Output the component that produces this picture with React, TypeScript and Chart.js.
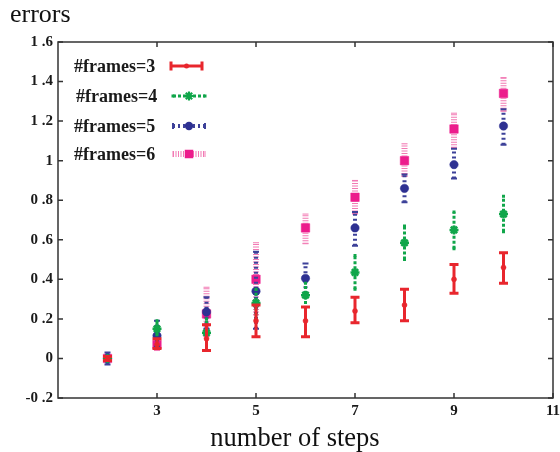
import React, { useEffect, useRef } from "react";
import { Chart, registerables } from "chart.js";

Chart.register(...registerables);

// ---------- data ----------
const steps = [2, 3, 4, 5, 6, 7, 8, 9, 10];

const seriesLabels = ["#frames=3", "#frames=4", "#frames=5", "#frames=6"];

const frames3 = [0, 0.07, 0.1, 0.19, 0.19, 0.24, 0.27, 0.4, 0.46];
const frames3Low = [-0.01, 0.05, 0.04, 0.11, 0.11, 0.18, 0.19, 0.33, 0.38];
const frames3High = [0.01, 0.1, 0.17, 0.27, 0.26, 0.31, 0.35, 0.475, 0.535];

const frames4 = [0, 0.15, 0.13, 0.28, 0.32, 0.435, 0.585, 0.65, 0.73];
const frames4Low = [-0.01, 0.12, 0.05, 0.19, 0.25, 0.35, 0.5, 0.555, 0.64];
const frames4High = [0.01, 0.19, 0.2, 0.35, 0.38, 0.52, 0.67, 0.74, 0.82];

const frames5 = [0, 0.115, 0.235, 0.34, 0.405, 0.66, 0.86, 0.98, 1.175];
const frames5Low = [-0.03, 0.06, 0.15, 0.15, 0.33, 0.57, 0.79, 0.91, 1.08];
const frames5High = [0.03, 0.19, 0.31, 0.54, 0.48, 0.74, 0.93, 1.06, 1.26];

const frames6 = [0, 0.07, 0.225, 0.4, 0.66, 0.815, 1.0, 1.16, 1.34];
const frames6Low = [-0.01, 0.04, 0.11, 0.22, 0.58, 0.73, 0.92, 1.065, 1.25];
const frames6High = [0.02, 0.1, 0.36, 0.585, 0.73, 0.9, 1.085, 1.24, 1.42];

const xTickValues = [3, 5, 7, 9, 11];
const xTickLabels = ["3", "5", "7", "9", "11"];
const yTickValues = [-0.2, 0, 0.2, 0.4, 0.6, 0.8, 1, 1.2, 1.4, 1.6];
const yTickLabels = ["-0 .2", "0", "0 .2", "0 .4", "0 .6", "0 .8", "1", "1 .2", "1 .4", "1 .6"];

const xTitle = "number of steps";
const yTitle = "errors";

// ---------- styles ----------
const FONT = "'Liberation Serif', 'Times New Roman', serif";

type SeriesStyle = {
  color: string;
  barColor: string;
  lineWidth: number;
  dash: number[];
  capW: number;
  capWidth: number;
  marker: "circle" | "star" | "rect";
  size: number;
};

const styles: SeriesStyle[] = [
  { color: "#e8262d", barColor: "#e8262d", lineWidth: 3, dash: [], capW: 9, capWidth: 3, marker: "circle", size: 2.5 },
  { color: "#10a64a", barColor: "#10a64a", lineWidth: 3, dash: [3, 2], capW: 3, capWidth: 3, marker: "star", size: 4.5 },
  { color: "#2e3192", barColor: "#3d4199", lineWidth: 4, dash: [2, 3], capW: 6, capWidth: 2, marker: "circle", size: 4.2 },
  { color: "#ec1c8c", barColor: "#f27ab4", lineWidth: 6, dash: [1, 1.5], capW: 6, capWidth: 1, marker: "rect", size: 6 },
];

const values = [frames3, frames4, frames5, frames6];
const lows = [frames3Low, frames4Low, frames5Low, frames6Low];
const highs = [frames3High, frames4High, frames5High, frames6High];

function drawMarker(ctx: CanvasRenderingContext2D, s: SeriesStyle, x: number, y: number) {
  ctx.save();
  ctx.setLineDash([]);
  ctx.fillStyle = s.color;
  ctx.strokeStyle = s.color;
  if (s.marker === "circle") {
    ctx.beginPath();
    ctx.arc(x, y, s.size, 0, Math.PI * 2);
    ctx.fill();
  } else if (s.marker === "rect") {
    const h = s.size * Math.SQRT1_2;
    ctx.fillRect(x - h, y - h, 2 * h, 2 * h);
  } else {
    ctx.lineWidth = 2.2;
    ctx.beginPath();
    for (let i = 0; i < 4; i++) {
      const a = (i * Math.PI) / 4;
      ctx.moveTo(x - Math.cos(a) * s.size, y - Math.sin(a) * s.size);
      ctx.lineTo(x + Math.cos(a) * s.size, y + Math.sin(a) * s.size);
    }
    ctx.stroke();
  }
  ctx.restore();
}

function drawErrorBar(ctx: CanvasRenderingContext2D, s: SeriesStyle, x: number, y1: number, y2: number) {
  ctx.save();
  ctx.strokeStyle = s.barColor;
  ctx.lineWidth = s.lineWidth;
  ctx.setLineDash(s.dash);
  ctx.beginPath();
  ctx.moveTo(x, y1);
  ctx.lineTo(x, y2);
  ctx.stroke();
  ctx.setLineDash([]);
  ctx.lineWidth = s.capWidth;
  ctx.beginPath();
  ctx.moveTo(x - s.capW / 2, y1);
  ctx.lineTo(x + s.capW / 2, y1);
  ctx.moveTo(x - s.capW / 2, y2);
  ctx.lineTo(x + s.capW / 2, y2);
  ctx.stroke();
  ctx.restore();
}

function drawHorizontalBar(ctx: CanvasRenderingContext2D, s: SeriesStyle, x1: number, x2: number, y: number) {
  ctx.save();
  ctx.strokeStyle = s.barColor;
  ctx.lineWidth = s.lineWidth;
  ctx.setLineDash(s.dash);
  ctx.beginPath();
  ctx.moveTo(x1, y);
  ctx.lineTo(x2, y);
  ctx.stroke();
  ctx.setLineDash([]);
  ctx.lineWidth = s.capWidth;
  ctx.beginPath();
  ctx.moveTo(x1, y - s.capW / 2);
  ctx.lineTo(x1, y + s.capW / 2);
  ctx.moveTo(x2, y - s.capW / 2);
  ctx.lineTo(x2, y + s.capW / 2);
  ctx.stroke();
  ctx.restore();
}

const errorBarPlugin = {
  id: "errorBars",
  beforeDatasetDraw(chart: any, args: any) {
    const i = args.index;
    const s = styles[i];
    const xs = chart.scales.x;
    const ys = chart.scales.y;
    const ctx = chart.ctx as CanvasRenderingContext2D;
    for (let k = 0; k < steps.length; k++) {
      const px = xs.getPixelForValue(steps[k]);
      drawErrorBar(ctx, s, px, ys.getPixelForValue(lows[i][k]), ys.getPixelForValue(highs[i][k]));
    }
  },
};

const decorPlugin = {
  id: "decor",
  afterDraw(chart: any) {
    const ctx = chart.ctx as CanvasRenderingContext2D;
    const { left, right, top, bottom } = chart.chartArea;
    const xs = chart.scales.x;
    const ys = chart.scales.y;
    ctx.save();
    // frame
    ctx.strokeStyle = "#333";
    ctx.lineWidth = 1.5;
    ctx.strokeRect(left, top, right - left, bottom - top);
    // inward ticks
    const tl = 5;
    ctx.beginPath();
    xTickValues.forEach((v) => {
      const px = xs.getPixelForValue(v);
      ctx.moveTo(px, bottom);
      ctx.lineTo(px, bottom - tl);
      ctx.moveTo(px, top);
      ctx.lineTo(px, top + tl);
    });
    yTickValues.forEach((v) => {
      const py = ys.getPixelForValue(v);
      ctx.moveTo(left, py);
      ctx.lineTo(left + tl, py);
      ctx.moveTo(right, py);
      ctx.lineTo(right - tl, py);
    });
    ctx.stroke();

    // titles
    ctx.fillStyle = "#111";
    ctx.font = `26px ${FONT}`;
    ctx.textAlign = "left";
    ctx.textBaseline = "alphabetic";
    ctx.fillText(yTitle, 10, 22);
    ctx.font = `26.5px ${FONT}`;
    ctx.textAlign = "center";
    ctx.fillText(xTitle, 295, 446);

    // legend
    const rows = [66, 96, 126, 154];
    const textX = [74, 76, 74, 74];
    ctx.font = `bold 18px ${FONT}`;
    ctx.textAlign = "left";
    ctx.textBaseline = "middle";
    seriesLabels.forEach((lab, i) => {
      ctx.fillStyle = "#1a1a1a";
      ctx.fillText(lab, textX[i], rows[i] + 1);
      const s = styles[i];
      const x1 = i === 0 ? 171 : 173;
      const x2 = i === 0 ? 202 : 205;
      drawHorizontalBar(ctx, s, x1, x2, rows[i]);
      drawMarker(ctx, s, (x1 + x2) / 2, rows[i]);
    });
    ctx.restore();
  },
};

function pointStyleFor(s: SeriesStyle): any {
  if (s.marker === "rect") return "rect";
  if (s.marker === "star") return "star";
  return "circle";
}

export default function App() {
  const ref = useRef<HTMLCanvasElement | null>(null);

  useEffect(() => {
    document.body.style.margin = "0";
    const canvas = ref.current;
    if (!canvas) return;

    const datasets = seriesLabels.map((label, i) => {
      const s = styles[i];
      return {
        label,
        data: steps.map((x, k) => ({ x, y: values[i][k] })),
        showLine: false,
        pointStyle: pointStyleFor(s),
        pointRadius: s.marker === "star" ? 4.5 : s.size,
        pointBackgroundColor: s.color,
        pointBorderColor: s.color,
        pointBorderWidth: s.marker === "star" ? 2.5 : 0.5,
        pointHoverRadius: s.size,
      };
    });

    const chart = new Chart(canvas, {
      type: "scatter",
      data: { datasets },
      options: {
        animation: false,
        responsive: false,
        maintainAspectRatio: false,
        layout: { padding: { top: 42, right: 2, left: 0, bottom: 0 } },
        plugins: {
          legend: { display: false },
          tooltip: { enabled: false },
          title: { display: false },
        },
        scales: {
          x: {
            type: "linear",
            min: 1,
            max: 11,
            grid: { display: false, drawTicks: false },
            border: { display: false },
            ticks: {
              autoSkip: false,
              maxRotation: 0,
              padding: 4,
              color: "#1a1a1a",
              font: { family: FONT, size: 15, weight: "bold" },
              callback: (v: any) => {
                const idx = xTickValues.findIndex((t) => Math.abs(t - Number(v)) < 1e-6);
                return idx >= 0 ? xTickLabels[idx] : "";
              },
            },
            afterBuildTicks: (scale: any) => {
              scale.ticks = xTickValues.map((v) => ({ value: v }));
            },
            afterFit: (scale: any) => {
              scale.height = 54;
              scale.paddingLeft = 0;
              scale.paddingRight = 0;
            },
          },
          y: {
            type: "linear",
            min: -0.2,
            max: 1.6,
            grid: { display: false, drawTicks: false },
            border: { display: false },
            ticks: {
              autoSkip: false,
              padding: 5,
              color: "#1a1a1a",
              font: { family: FONT, size: 15, weight: "bold" },
              callback: (v: any) => {
                const idx = yTickValues.findIndex((t) => Math.abs(t - Number(v)) < 1e-6);
                return idx >= 0 ? yTickLabels[idx] : "";
              },
            },
            afterBuildTicks: (scale: any) => {
              scale.ticks = yTickValues.map((v) => ({ value: v }));
            },
            afterFit: (scale: any) => {
              scale.width = 58;
              scale.paddingTop = 0;
              scale.paddingBottom = 0;
            },
          },
        },
      } as any,
      plugins: [errorBarPlugin, decorPlugin],
    });

    return () => chart.destroy();
  }, []);

  return (
    <div style={{ width: 560, height: 452, background: "#fff" }}>
      <canvas ref={ref} width={560} height={452} style={{ display: "block" }} />
    </div>
  );
}
